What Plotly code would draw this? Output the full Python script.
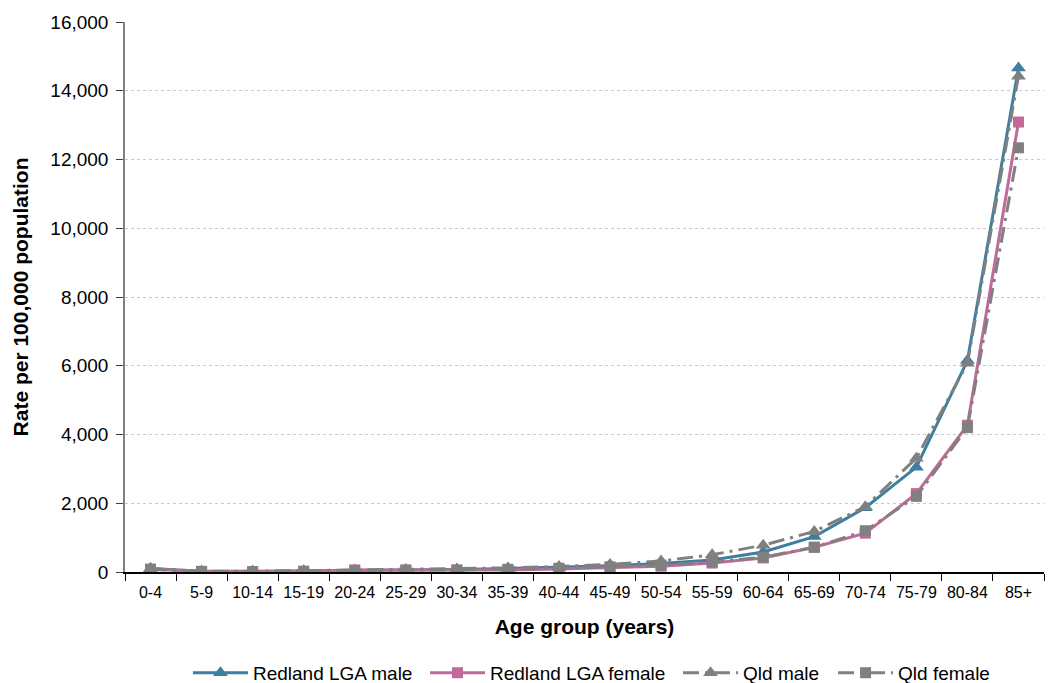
import plotly.graph_objects as go

age_groups = ["0-4", "5-9", "10-14", "15-19", "20-24", "25-29", "30-34", "35-39", "40-44",
              "45-49", "50-54", "55-59", "60-64", "65-69", "70-74", "75-79", "80-84", "85+"]
redland_male = [100, 20, 20, 30, 50, 60, 70, 100, 130, 180, 250, 350, 580, 1030, 1870, 3050, 6150, 14660]
redland_female = [80, 20, 15, 20, 60, 60, 50, 60, 90, 130, 170, 260, 410, 720, 1130, 2280, 4270, 13090]
qld_male = [100, 20, 20, 40, 60, 70, 90, 120, 160, 220, 320, 500, 780, 1180, 1900, 3310, 6070, 14420]
qld_female = [80, 15, 15, 20, 40, 50, 60, 80, 110, 150, 200, 290, 430, 720, 1200, 2200, 4200, 12340]

blue = "#3E7E9F"
pink = "#C06A9A"
gray = "#808080"
qld_dash = "16px,6px,3px,6px"

fig = go.Figure()
fig.add_trace(go.Scatter(x=age_groups, y=redland_male, name="Redland LGA male",
                         mode="lines+markers", line=dict(color=blue, width=3),
                         marker=dict(symbol="triangle-up", size=13, color=blue), legend="legend"))
fig.add_trace(go.Scatter(x=age_groups, y=redland_female, name="Redland LGA female",
                         mode="lines+markers", line=dict(color=pink, width=3),
                         marker=dict(symbol="square", size=11, color=pink), legend="legend2"))
fig.add_trace(go.Scatter(x=age_groups, y=qld_male, name="Qld male",
                         mode="lines+markers", line=dict(color=gray, width=3, dash=qld_dash),
                         marker=dict(symbol="triangle-up", size=13, color=gray), legend="legend3"))
fig.add_trace(go.Scatter(x=age_groups, y=qld_female, name="Qld female",
                         mode="lines+markers", line=dict(color=gray, width=3, dash=qld_dash),
                         marker=dict(symbol="square", size=11, color=gray), legend="legend4"))

def leg(xpos):
    return dict(orientation="h", x=xpos, xanchor="left", xref="container",
                y=0.015, yanchor="middle", yref="container",
                font=dict(size=19), itemwidth=55, bgcolor="rgba(0,0,0,0)")

fig.update_layout(
    width=1056, height=675,
    margin=dict(l=117, r=20, t=14, b=111, autoexpand=False),
    plot_bgcolor="white", paper_bgcolor="white",
    font=dict(family="Liberation Sans, Arial, sans-serif", color="black"),
    legend=leg(0.1704), legend2=leg(0.3949), legend3=leg(0.6345), legend4=leg(0.7813),
    showlegend=True,
)
fig.update_xaxes(
    type="category", range=[-0.5, len(age_groups) - 0.5],
    tickson="boundaries", ticks="outside", ticklen=7, tickcolor="black",
    showline=True, linecolor="black", linewidth=1.5, showgrid=False, automargin=False,
    tickfont=dict(size=16), tickangle=0, ticklabelstandoff=5,
    title=dict(text="<b>Age group (years)</b>", font=dict(size=21), standoff=19),
)
fig.update_yaxes(
    range=[0, 16000], tickvals=list(range(0, 16001, 2000)), tickformat=",",
    ticks="outside", ticklen=7, tickcolor="#404040",
    showline=True, linecolor="#808080", linewidth=1.5, automargin=False,
    showgrid=True, gridcolor="#C8C8C8", griddash="dot", gridwidth=1,
    tickfont=dict(size=19), zeroline=False, ticklabelstandoff=4,
    title=dict(text="<b>Rate per 100,000 population</b>", font=dict(size=21), standoff=16),
)

fig.write_html("out.html")
